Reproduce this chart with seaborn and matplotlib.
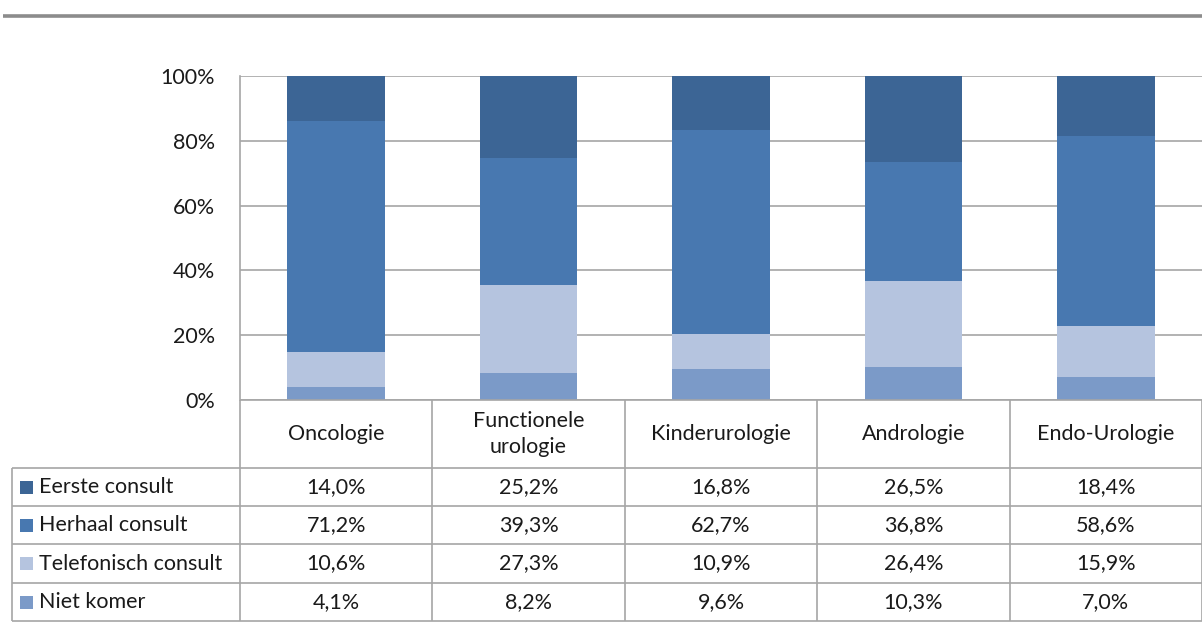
import matplotlib
matplotlib.use("Agg")
import matplotlib.pyplot as plt
import numpy as np
import pandas as pd
import seaborn as sns

sns.set_theme(style="white")
plt.rcParams["font.family"] = ["Lato", "DejaVu Sans"]

# Data
categories = ["Oncologie", "Functionele\nurologie", "Kinderurologie", "Andrologie", "Endo-Urologie"]
series_names = ["Eerste consult", "Herhaal consult", "Telefonisch consult", "Niet komer"]
eerste = [14.0, 25.2, 16.8, 26.5, 18.4]
herhaal = [71.2, 39.3, 62.7, 36.8, 58.6]
telefonisch = [10.6, 27.3, 10.9, 26.4, 15.9]
niet_komer = [4.1, 8.2, 9.6, 10.3, 7.0]
colors = ["#3C6595", "#4878B0", "#B5C4DF", "#7B9AC8"]
ytick_labels = ["0%", "20%", "40%", "60%", "80%", "100%"]

values = [eerste, herhaal, telefonisch, niet_komer]

W, H = 1202, 639
fig = plt.figure(figsize=(W / 100, H / 100), dpi=100)

# Chart area in pixel coordinates
x0, x1 = 240, 1202
y_top, y_bot = 76, 400
ax = fig.add_axes([x0 / W, 1 - y_bot / H, (x1 - x0) / W, (y_bot - y_top) / H])

# 100% stacked: normalise each category, then draw cumulative totals (top series first)
arr = np.array(values)
share = arr / arr.sum(axis=0) * 100
stack_order = ["Niet komer", "Telefonisch consult", "Herhaal consult", "Eerste consult"]
idx = [series_names.index(s) for s in stack_order]
cum = np.cumsum(share[idx], axis=0)

keys = [c.replace("\n", " ") for c in categories]
for level in range(len(stack_order) - 1, -1, -1):
    name = stack_order[level]
    df = pd.DataFrame({"cat": keys, "val": cum[level]})
    sns.barplot(data=df, x="cat", y="val", order=keys, color=colors[series_names.index(name)],
                saturation=1, width=0.507, ax=ax, edgecolor="none", linewidth=0, zorder=3)

fs = 15.5
tc = "#1a1a1a"

ax.set_ylim(0, 100)
ax.set_xlim(-0.5, len(categories) - 0.5)
ax.set_yticks([0, 20, 40, 60, 80, 100])
ax.set_yticklabels(ytick_labels, fontsize=fs, color=tc)
ax.tick_params(axis="y", length=0, pad=18)
ax.set_xticks([])
ax.set_xlabel("")
ax.set_ylabel("")
ax.yaxis.grid(True, color="#A6A6A6", linewidth=1.2, zorder=0)
for s in ["top", "right", "bottom"]:
    ax.spines[s].set_visible(False)
ax.spines["left"].set_color("#A6A6A6")
ax.spines["left"].set_linewidth(1.2)

# Overlay for table and separator line, pixel coordinates
ov = fig.add_axes([0, 0, 1, 1], facecolor="none")
ov.set_xlim(0, W)
ov.set_ylim(H, 0)
ov.axis("off")

ov.plot([3, W], [16, 16], color="#8C8C8C", linewidth=2.6, solid_capstyle="butt")

line_kw = dict(color="#A6A6A6", linewidth=1.2, solid_capstyle="butt")
col_edges = [x0 + i * (x1 - x0) / 5 for i in range(6)]
row_edges = [468, 506, 544, 583, 621]
left = 12

# header row
ov.plot([x0, x1], [y_bot, y_bot], **line_kw)
for xe in col_edges[1:]:
    ov.plot([xe, xe], [y_bot, row_edges[-1]], **line_kw)
ov.plot([x0, x0], [y_bot, row_edges[-1]], **line_kw)
ov.plot([left, left], [row_edges[0], row_edges[-1]], **line_kw)
for ye in row_edges:
    ov.plot([left, x1], [ye, ye], **line_kw)

for i, cat in enumerate(categories):
    cx = (col_edges[i] + col_edges[i + 1]) / 2
    ov.text(cx, (y_bot + row_edges[0]) / 2, cat, ha="center", va="center",
            fontsize=fs, color=tc, linespacing=1.35)

for r, name in enumerate(series_names):
    cy = (row_edges[r] + row_edges[r + 1]) / 2
    ov.add_patch(plt.Rectangle((20, cy - 6.5), 13, 13, color=colors[r], linewidth=0))
    ov.text(39, cy, name, ha="left", va="center", fontsize=fs, color=tc)
    for i, v in enumerate(values[r]):
        cx = (col_edges[i] + col_edges[i + 1]) / 2
        ov.text(cx, cy, f"{v:.1f}%".replace(".", ","), ha="center", va="center",
                fontsize=fs, color=tc)

fig.savefig("out.png", dpi=100, facecolor="white")
